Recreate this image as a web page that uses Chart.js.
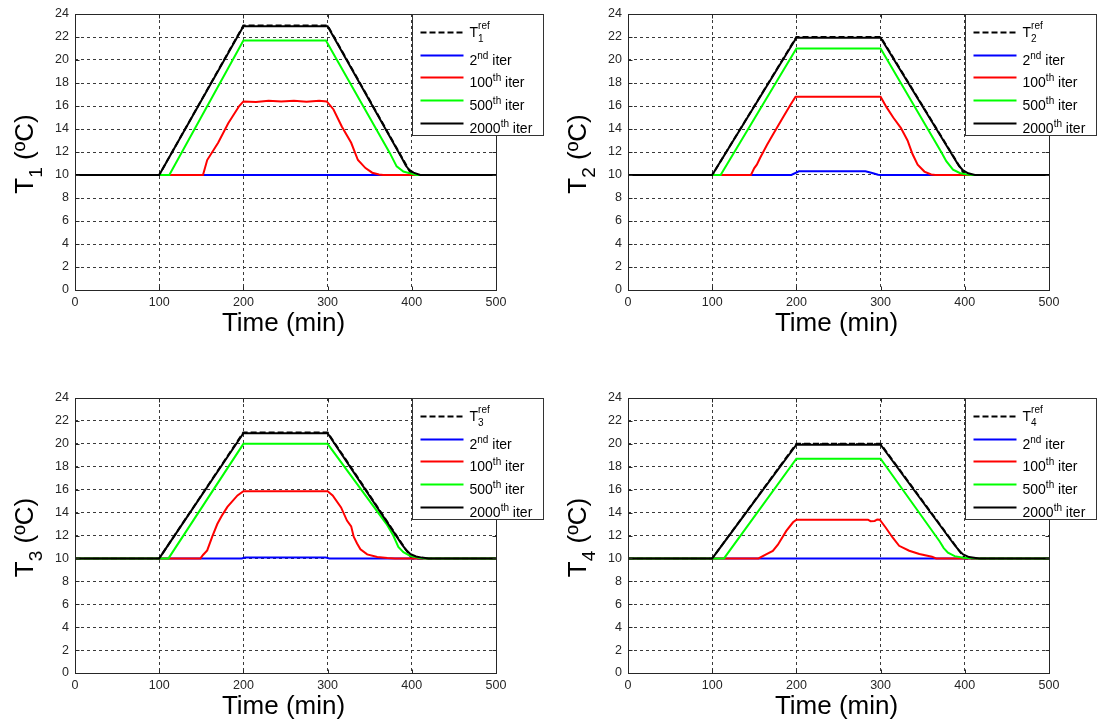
<!DOCTYPE html>
<html>
<head>
<meta charset="utf-8">
<script src="https://cdn.jsdelivr.net/npm/chart.js@4.4.1/dist/chart.umd.min.js"></script>
<style>
  body { margin: 0; background: #fff; width: 1098px; height: 722px; overflow: hidden; position: relative; }
  canvas { position: absolute; }
</style>
</head>
<body>
<canvas id="c1" width="549" height="361" style="left:0;top:0"></canvas>
<canvas id="c2" width="549" height="361" style="left:549px;top:0"></canvas>
<canvas id="c3" width="549" height="361" style="left:0;top:361px"></canvas>
<canvas id="c4" width="549" height="361" style="left:549px;top:361px"></canvas>
<script>
// axis ticks
var timeTicks = [0, 100, 200, 300, 400, 500];
var tempTicks = [0, 2, 4, 6, 8, 10, 12, 14, 16, 18, 20, 22, 24];

// legend entries: [main, superscript, subscript, tail]
var iterLabels = [
  ["2", "nd", "", " iter"],
  ["100", "th", "", " iter"],
  ["500", "th", "", " iter"],
  ["2000", "th", "", " iter"]
];

// T1 : [time (min), temperature (ºC)]
var ref1 = [[0,10],[100,10],[200,23],[300,23],[400,10],[500,10]];
var iter2_1 = [[0,10],[500,10]];
var iter100_1 = [[0,10],[152,10],[157,11.3],[170,12.8],[182,14.5],[195,16],[200,16.4],[215,16.35],[230,16.45],[245,16.4],[260,16.45],[275,16.38],[290,16.45],[299,16.4],[307,15.7],[317,14.2],[328,12.8],[336,11.3],[345,10.6],[353,10.2],[361,10.05],[366,10],[500,10]];
var iter500_1 = [[0,10],[112,10],[200,21.7],[298,21.7],[374,11.9],[382,10.75],[390,10.3],[399,10.12],[405,10],[500,10]];
var iter2000_1 = [[0,10],[100,10],[200,22.93],[300,22.93],[388,11.5],[393,10.8],[397,10.45],[402,10.2],[410,10],[500,10]];

// T2
var ref2 = [[0,10],[100,10],[200,22],[300,22],[400,10],[500,10]];
var iter2_2 = [[0,10],[194,10],[203,10.32],[282,10.32],[290,10.18],[297,10.02],[300,10],[500,10]];
var iter100_2 = [[0,10],[146,10],[150,10.6],[153,10.9],[157,11.5],[165,12.6],[172,13.5],[184,15],[193,16.1],[199,16.8],[240,16.8],[300,16.8],[307,15.9],[315,15],[324,14.1],[332,13],[338,11.8],[344,10.9],[352,10.3],[360,10.05],[365,10],[500,10]];
var iter500_2 = [[0,10],[110,10],[200,21],[300,21],[372,12],[378,11.2],[386,10.47],[394,10.18],[402,10.05],[409,10],[500,10]];
var iter2000_2 = [[0,10],[100,10],[200,21.93],[300,21.93],[388,11.4],[393,10.8],[398,10.4],[404,10.15],[412,10],[500,10]];

// T3
var ref3 = [[0,10],[100,10],[200,21],[300,21],[400,10],[500,10]];
var iter2_3 = [[0,10],[198,10],[202,10.07],[298,10.07],[302,10],[500,10]];
var iter100_3 = [[0,10],[149,10],[152,10.3],[157,10.7],[163,11.9],[169,13],[175,13.8],[181,14.5],[187,15],[193,15.5],[200,15.87],[300,15.87],[306,15.5],[316,14.45],[323,13.3],[328,12.8],[331,11.9],[335,11.3],[339,10.8],[347,10.35],[359,10.12],[371,10.03],[380,10],[500,10]];
var iter500_3 = [[0,10],[111,10],[200,20],[300,20],[370,13],[378,12],[384,11],[390,10.55],[398,10.22],[408,10.05],[415,10],[500,10]];
var iter2000_3 = [[0,10],[100,10],[200,20.93],[300,20.93],[388,11.25],[393,10.75],[398,10.4],[405,10.17],[412,10.07],[420,10],[500,10]];

// T4
var ref4 = [[0,10],[100,10],[200,20],[300,20],[400,10],[500,10]];
var iter2_4 = [[0,10],[500,10]];
var iter100_4 = [[0,10],[155,10],[164,10.35],[172,10.65],[178,11.2],[188,12.4],[196,13.15],[200,13.38],[285,13.38],[288,13.25],[293,13.27],[296,13.4],[299,13.38],[306,12.7],[314,11.85],[322,11.1],[334,10.67],[346,10.38],[361,10.15],[366,10],[500,10]];
var iter500_4 = [[0,10],[114,10],[200,18.7],[300,18.7],[370,11.5],[375,10.9],[380,10.5],[388,10.2],[398,10.06],[415,10],[500,10]];
var iter2000_4 = [[0,10],[100,10],[200,19.93],[300,19.93],[388,11.15],[393,10.7],[398,10.35],[405,10.12],[417,10],[500,10]];

var FONT = '"Liberation Sans", Arial, Helvetica, sans-serif';
var TEXT = '#262626';

// draw "main" + stacked sup/sub + tail, returns end x
function richText(ctx, x, y, parts, size, supDy, subDy) {
  ctx.font = size + 'px ' + FONT;
  ctx.fillText(parts[0], x, y);
  x += ctx.measureText(parts[0]).width;
  var small = Math.round(size * 0.72);
  ctx.font = small + 'px ' + FONT;
  var w = 0;
  if (parts[1]) { ctx.fillText(parts[1], x, y + supDy); w = ctx.measureText(parts[1]).width; }
  if (parts[2]) { ctx.fillText(parts[2], x, y + subDy); w = Math.max(w, ctx.measureText(parts[2]).width); }
  x += w;
  if (parts[3]) {
    ctx.font = size + 'px ' + FONT;
    ctx.fillText(parts[3], x, y);
    x += ctx.measureText(parts[3]).width;
  }
  return x;
}

function richWidth(ctx, parts, size) {
  ctx.font = size + 'px ' + FONT;
  var w = ctx.measureText(parts[0]).width + ctx.measureText(parts[3] || '').width;
  ctx.font = Math.round(size * 0.72) + 'px ' + FONT;
  return w + Math.max(ctx.measureText(parts[1] || '').width, ctx.measureText(parts[2] || '').width);
}

var panelPlugin = {
  id: 'panel',
  afterDraw: function(chart, args, opts) {
    var ctx = chart.ctx, a = chart.chartArea;
    var xs = chart.scales.x, ys = chart.scales.y;
    var n = String(opts.n);
    ctx.save();

    // axes box + inward ticks
    var L = Math.round(a.left) + 0.5, R = Math.round(a.right) + 0.5;
    var T = Math.round(a.top) + 0.5, B = Math.round(a.bottom) + 0.5;
    ctx.strokeStyle = TEXT;
    ctx.lineWidth = 1;
    ctx.strokeRect(L, T, R - L, B - T);
    ctx.beginPath();
    timeTicks.forEach(function(t) {
      var x = Math.round(xs.getPixelForValue(t)) + 0.5;
      ctx.moveTo(x, B); ctx.lineTo(x, B - 4);
      ctx.moveTo(x, T); ctx.lineTo(x, T + 4);
    });
    tempTicks.forEach(function(v) {
      var y = Math.round(ys.getPixelForValue(v)) + 0.5;
      ctx.moveTo(L, y); ctx.lineTo(L + 4, y);
      ctx.moveTo(R, y); ctx.lineTo(R - 4, y);
    });
    ctx.stroke();

    // x title
    ctx.fillStyle = '#000';
    ctx.font = '26px ' + FONT;
    ctx.textAlign = 'center';
    ctx.textBaseline = 'alphabetic';
    ctx.fillText('Time (min)', (a.left + a.right) / 2 - 2, a.bottom + 41);

    // y title, rotated
    ctx.textAlign = 'left';
    var yParts = ['T', '', n, ' (ºC)'];
    var yw = richWidth(ctx, yParts, 26);
    ctx.save();
    ctx.translate(a.left - 42, (a.top + a.bottom) / 2 + 2);
    ctx.rotate(-Math.PI / 2);
    richText(ctx, -yw / 2, 0, yParts, 26, -10, 9);
    ctx.restore();

    // legend box
    var lx = Math.round(xs.getPixelForValue(400)) + 0.5;
    var ly = T;
    ctx.fillStyle = '#fff';
    ctx.fillRect(lx, ly, 131, 121);
    ctx.strokeStyle = '#333';
    ctx.strokeRect(lx, ly, 131, 121);

    var series = chart.data.datasets;
    var rows = [17, 40, 62, 85, 108];
    for (var i = 0; i < 5; i++) {
      var ds = series[i];
      var y = Math.round(ly + rows[i]) + 0.5;
      ctx.strokeStyle = ds.borderColor;
      ctx.lineWidth = 2;
      ctx.setLineDash(ds.borderDash || []);
      ctx.beginPath();
      ctx.moveTo(lx + 8, y);
      ctx.lineTo(lx + 51, y);
      ctx.stroke();
      ctx.setLineDash([]);
      ctx.fillStyle = '#000';
      if (i === 0) {
        richText(ctx, lx + 57, ly + 22, ['T', 'ref', n, ''], 14, -8, 5);
      } else {
        richText(ctx, lx + 57, y + 9, iterLabels[i - 1], 14, -6, 4);
      }
    }
    ctx.restore();
  }
};

function makePanel(id, n, ref, it2, it100, it500, it2000, yAxisW, padTop, xAxisH, padRight) {
  var line = function(data, color, order, dash) {
    return {
      data: data, borderColor: color, borderWidth: 2, borderDash: dash,
      pointRadius: 0, tension: 0, fill: false, order: order
    };
  };
  new Chart(document.getElementById(id), {
    type: 'line',
    data: {
      datasets: [
        line(ref, '#000000', 5, [6, 3]),
        line(it2, '#0000ff', 4),
        line(it100, '#ff0000', 3),
        line(it500, '#00ff00', 2),
        line(it2000, '#000000', 1)
      ]
    },
    options: {
      responsive: false,
      animation: false,
      events: [],
      layout: { padding: { top: padTop, right: padRight, left: 0, bottom: 0 } },
      plugins: { legend: { display: false }, tooltip: { enabled: false }, panel: { n: n } },
      scales: {
        x: {
          type: 'linear',
          min: timeTicks[0], max: timeTicks[timeTicks.length - 1],
          afterBuildTicks: function(s) { s.ticks = timeTicks.map(function(v) { return { value: v }; }); },
          afterFit: function(s) { s.height = xAxisH; },
          ticks: { color: TEXT, padding: 5, font: { family: FONT, size: 12.5 } },
          grid: { color: '#3a3a3a', lineWidth: 1, drawTicks: false },
          border: { display: false, dash: [3, 3] }
        },
        y: {
          min: tempTicks[0], max: tempTicks[tempTicks.length - 1],
          afterBuildTicks: function(s) { s.ticks = tempTicks.map(function(v) { return { value: v }; }); },
          afterFit: function(s) { s.width = yAxisW; },
          ticks: { color: TEXT, padding: 6, font: { family: FONT, size: 12.5 } },
          grid: { color: '#3a3a3a', lineWidth: 1, drawTicks: false },
          border: { display: false, dash: [3, 3] }
        }
      }
    },
    plugins: [panelPlugin]
  });
}

makePanel('c1', 1, ref1, iter2_1, iter100_1, iter500_1, iter2000_1, 75, 14, 71, 53);
makePanel('c2', 2, ref2, iter2_2, iter100_2, iter500_2, iter2000_2, 79, 14, 71, 49);
makePanel('c3', 3, ref3, iter2_3, iter100_3, iter500_3, iter2000_3, 75, 37, 49, 53);
makePanel('c4', 4, ref4, iter2_4, iter100_4, iter500_4, iter2000_4, 79, 37, 49, 49);
</script>
</body>
</html>
